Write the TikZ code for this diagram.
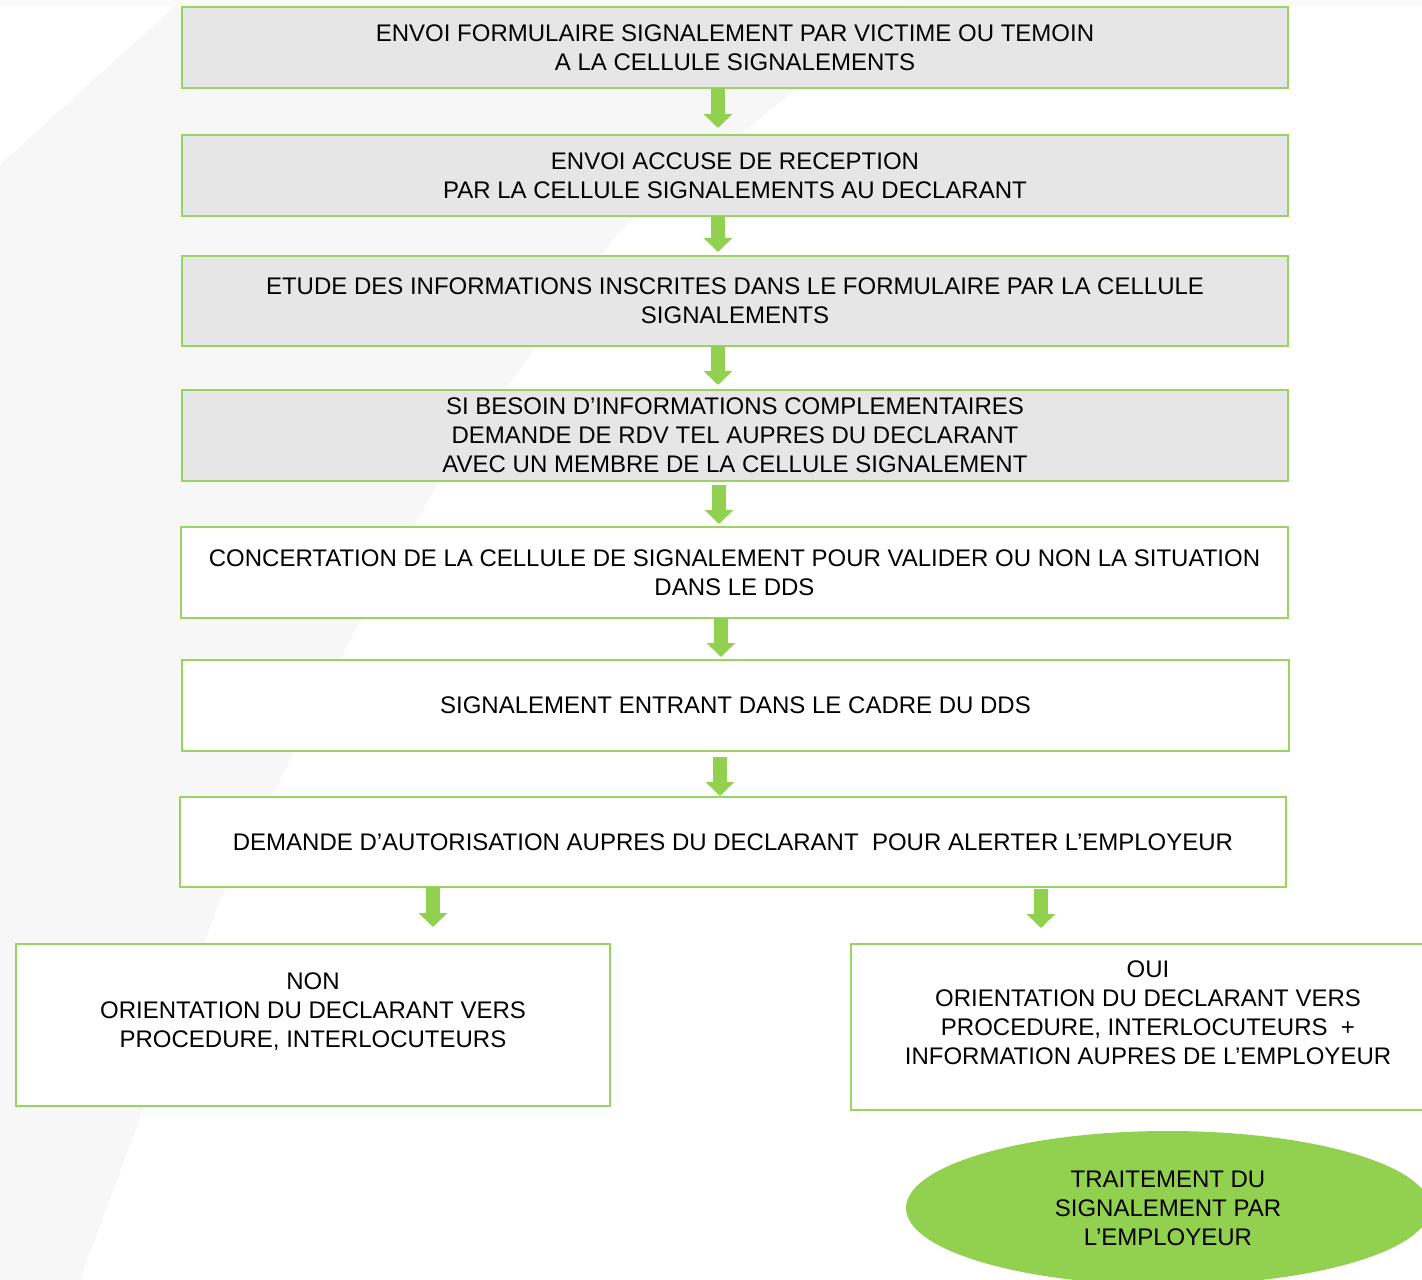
\documentclass[tikz,border=0pt]{standalone}
\usepackage{fontspec}
\setmainfont{Liberation Sans}
\usetikzlibrary{arrows.meta,calc,shapes.geometric}
\definecolor{gborder}{HTML}{98D462}
\definecolor{agreen}{HTML}{92D050}
\definecolor{boxgray}{HTML}{E6E6E6}
\definecolor{bggray}{HTML}{F7F7F7}
\newcommand{\boxfont}{\fontsize{18}{21.75}\selectfont}
\begin{document}
\begin{tikzpicture}[x=0.75pt,y=-0.75pt,
  flowbox/.style={draw=gborder, line width=1.1pt, inner sep=0pt, outer sep=0pt, anchor=north west, align=center, font=\boxfont, text=black},
  graybox/.style={flowbox, fill=boxgray},
  whitebox/.style={flowbox, fill=white},
  garrow/.style={draw=agreen, line width=10.5pt, line cap=butt, -{Triangle[width=21pt,length=10.5pt]}},
  endoval/.style={ellipse, fill=agreen, inner sep=0pt, align=center, font=\boxfont, text=black}]
\path[use as bounding box] (0,0) rectangle (1422,1280);
\clip (0,0) rectangle (1422,1280);
% background
\fill[white] (0,0) rectangle (1422,1280);
\fill[bggray!60] (0,0) rectangle (1422,6);
\fill[bggray] (0,165) -- (175,6) -- (900,6) -- (620,230) -- (440,480) -- (350,640) -- (220,900) -- (80,1280) -- (0,1280) -- cycle;
% boxes
\node[graybox, minimum width=829.5pt, minimum height=60.75pt] (b1) at (182,7)
  {ENVOI FORMULAIRE SIGNALEMENT PAR VICTIME OU TEMOIN\\A LA CELLULE SIGNALEMENTS};
\node[graybox, minimum width=829.5pt, minimum height=60.75pt] (b2) at (182,135)
  {ENVOI ACCUSE DE RECEPTION\\PAR LA CELLULE SIGNALEMENTS AU DECLARANT};
\node[graybox, minimum width=829.5pt, minimum height=67.5pt] (b3) at (182,256)
  {ETUDE DES INFORMATIONS INSCRITES DANS LE FORMULAIRE PAR LA CELLULE\\SIGNALEMENTS};
\node[graybox, minimum width=829.5pt, minimum height=68.25pt] (b4) at (182,390)
  {SI BESOIN D’INFORMATIONS COMPLEMENTAIRES\\DEMANDE DE RDV TEL AUPRES DU DECLARANT\\AVEC UN MEMBRE DE LA CELLULE SIGNALEMENT};
\node[whitebox, minimum width=830.25pt, minimum height=68.25pt] (b5) at (181,527)
  {CONCERTATION DE LA CELLULE DE SIGNALEMENT POUR VALIDER OU NON LA SITUATION\\DANS LE DDS};
\node[whitebox, minimum width=830.25pt, minimum height=68.25pt] (b6) at (182,660)
  {SIGNALEMENT ENTRANT DANS LE CADRE DU DDS};
\node[whitebox, minimum width=829.5pt, minimum height=67.5pt] (b7) at (180,797)
  {DEMANDE D’AUTORISATION AUPRES DU DECLARANT\ \ POUR ALERTER L’EMPLOYEUR};
\node[whitebox, minimum width=445.5pt, minimum height=121.5pt] (non) at (16,944)
  {NON\\ORIENTATION DU DECLARANT VERS\\PROCEDURE, INTERLOCUTEURS\\~};
\node[whitebox, minimum width=445.5pt, minimum height=124.5pt] (oui) at (851,944)
  {OUI\\ORIENTATION DU DECLARANT VERS\\PROCEDURE, INTERLOCUTEURS\ \ +\\INFORMATION AUPRES DE L’EMPLOYEUR\\~};
\node[endoval, minimum width=393pt, minimum height=115.5pt] (fin) at (1168,1208)
  {TRAITEMENT DU\\SIGNALEMENT PAR\\L’EMPLOYEUR};
% arrows (vertical: start below a box, tip just above the next one)
\coordinate (s1) at ($(b1.south)+(-17,0)$);
\coordinate (s2) at ($(b2.south)+(-17,0)$);
\coordinate (s3) at ($(b3.south)+(-17,0)$);
\coordinate (s4) at ($(b4.south)+(-16,4)$);
\coordinate (s5) at ($(b5.south)+(-13.5,0)$);
\coordinate (s6) at ($(b6.south)+(-15.5,6)$);
\draw[garrow] (s1) -- ($(s1 |- b2.north)+(0,-7)$);
\draw[garrow] (s2) -- ($(s2 |- b3.north)+(0,-4)$);
\draw[garrow] (s3) -- ($(s3 |- b4.north)+(0,-5)$);
\draw[garrow] (s4) -- ($(s4 |- b5.north)+(0,-3)$);
\draw[garrow] (s5) -- ($(s5 |- b6.north)+(0,-3)$);
\draw[garrow] (s6) -- ($(s6 |- b7.north)+(0,-1)$);
\coordinate (tnon) at ($(non.north)+(120,-17)$);
\coordinate (toui) at ($(oui.north)+(-107,-16)$);
\draw[garrow] (b7.south -| tnon) -- (tnon);
\draw[garrow] ($(b7.south -| toui)+(0,2)$) -- (toui);
\end{tikzpicture}
\end{document}
